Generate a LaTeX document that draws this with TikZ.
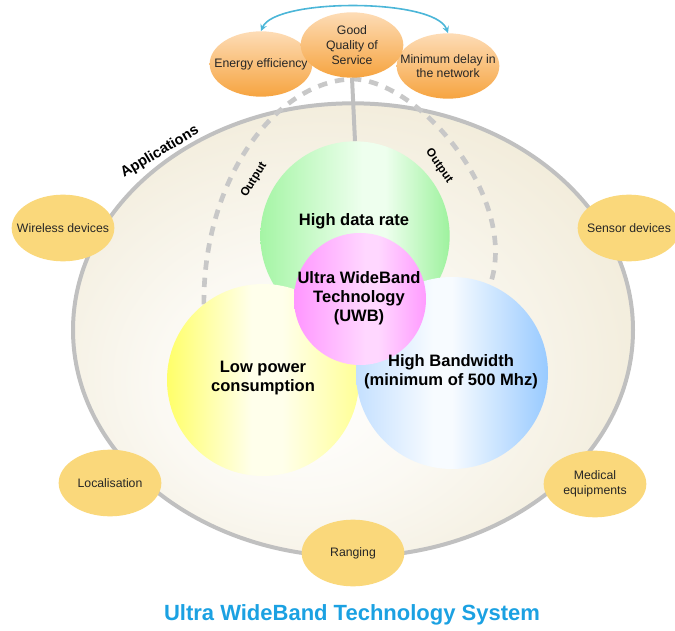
\documentclass[tikz,border=0pt]{standalone}
\usepackage{fontspec}
\setmainfont{Liberation Sans}
\usepackage{tikz}
\usetikzlibrary{positioning}
\usetikzlibrary{shapes.geometric, arrows}
\usetikzlibrary{calc, shapes, backgrounds}

\definecolor{appfill}{RGB}{250,216,123}
\definecolor{goaltop}{RGB}{253,220,182}
\definecolor{goalbot}{RGB}{246,164,64}
\definecolor{rim}{RGB}{192,192,192}
\definecolor{dashgray}{RGB}{200,200,200}
\definecolor{beige}{RGB}{239,232,211}
\definecolor{cream}{RGB}{251,249,243}
\definecolor{linkblue}{RGB}{75,182,216}
\definecolor{titleblue}{RGB}{27,161,226}
\definecolor{grn1}{RGB}{165,245,165}
\definecolor{grn2}{RGB}{238,255,238}
\definecolor{grn3}{RGB}{158,242,158}
\definecolor{ylw1}{RGB}{255,255,105}
\definecolor{ylw2}{RGB}{255,255,235}
\definecolor{ylw3}{RGB}{255,255,150}
\definecolor{blu1}{RGB}{196,224,255}
\definecolor{blu2}{RGB}{247,251,255}
\definecolor{blu3}{RGB}{152,202,255}
\definecolor{pnk1}{RGB}{255,150,255}
\definecolor{pnk2}{RGB}{255,215,255}
\definecolor{pnk3}{RGB}{255,155,255}

\pgfdeclareradialshading{appshade}{\pgfpoint{-6bp}{-8bp}}{color(0bp)=(white); color(13bp)=(cream); color(35bp)=(beige); color(50bp)=(beige)}
\pgfdeclarehorizontalshading{grnshade}{100bp}{color(0bp)=(grn1); color(25bp)=(grn1); color(52bp)=(grn2); color(58bp)=(grn2); color(75bp)=(grn3); color(100bp)=(grn3)}
\pgfdeclarehorizontalshading{ylwshade}{100bp}{color(0bp)=(ylw1); color(25bp)=(ylw1); color(47bp)=(ylw2); color(55bp)=(ylw2); color(75bp)=(ylw3); color(100bp)=(ylw3)}
\pgfdeclarehorizontalshading{blushade}{100bp}{color(0bp)=(blu1); color(25bp)=(blu1); color(45bp)=(blu2); color(50bp)=(blu2); color(75bp)=(blu3); color(100bp)=(blu3)}
\pgfdeclarehorizontalshading{pnkshade}{100bp}{color(0bp)=(pnk1); color(25bp)=(pnk1); color(52bp)=(pnk2); color(57bp)=(pnk2); color(75bp)=(pnk3); color(100bp)=(pnk3)}

\tikzstyle{arrow} = [line width=1.2pt,<->,>=stealth]
\tikzstyle{app} = [ellipse, fill=appfill, minimum width=77pt, minimum height=50pt, inner sep=-30pt, align=center, text=black!85, font=\fontsize{9.2}{11.2}\selectfont]
\tikzstyle{goal} = [ellipse, top color=goaltop, bottom color=goalbot, minimum width=77pt, minimum height=49pt, inner sep=-30pt, align=center, text=black!85, font=\fontsize{9.2}{11}\selectfont]
\tikzstyle{outpath} = [dashgray, line width=3.5pt, dash pattern=on 7pt off 6pt]

\begin{document}
\begin{tikzpicture}[
    x = 0.75pt, y = -0.75pt,
    disc/.style = {circle, inner sep=0pt, minimum size=#1},
    bold/.style = {align=center, font=\bfseries\fontsize{12.4}{14.3}\selectfont},
    tag/.style = {font=\bfseries\fontsize{8.8}{10}\selectfont}
  ]
  \useasboundingbox (0,0) rectangle (675,631);

  % Applications
  \node[ellipse, draw=rim, line width=3pt, shading=appshade,
        minimum width=420pt, minimum height=340pt] (Apps) at (353,330) {};
  \node[app] (Wireless) at (63,228) {Wireless devices};
  \node[app] (Sensor) at (629,228) {Sensor devices};
  \node[app] (Localisation) at (110,483) {Localisation};
  \node[app] (Medical) at (595,484) {Medical\\equipments};
  \node[app] (Ranging) at (353,553) {Ranging};

  % Output links
  \coordinate (Top) at (352,79);
  \draw[outpath] (263,380) ++(128:72pt) .. controls (203,180) and (275,82) .. (Top);
  \draw[outpath] (Top) .. controls (420,80) and (520,200) .. (490,285);

  % Circles
  \node[disc=142pt, shading=grnshade] (Rate) at (355,236) {};
  \node[disc=144pt, shading=ylwshade] (Power) at (263,380) {};
  \node[disc=144pt, shading=blushade] (Bandwidth) at (452,373) {};
  \node[disc=99pt, shading=pnkshade] (UWB) at (360,299) {};

  % Goals
  \node[goal] (Energy) at (261,64) {Energy efficiency};
  \node[goal] (Delay) at (448,66) {Minimum delay in\\the network};
  \node[goal] (QoS) at (352,45) {Good\\Quality of\\Service};
  \draw[rim, line width=3pt] (QoS.south) -- (Rate.north);
  \draw[arrow, linkblue] (Energy.north) .. controls (275,-2) and (435,-2) .. (Delay.north);

  % Labels
  \node[bold] (Rate_txt) at (354,221) {High data rate};
  \node[bold] (Power_txt) at (263,378) {Low power\\consumption};
  \node[bold] (Bandwidth_txt) at (451,372) {High Bandwidth\\(minimum of 500 Mhz)};
  \node[bold] (UWB_txt) at (359,298) {Ultra WideBand\\Technology\\(UWB)};
  \node[tag, rotate=58] (Out_left) at (254,180) {Output};
  \node[tag, rotate=-55] (Out_right) at (439,166) {Output};
  \node[font=\bfseries\fontsize{11}{13}\selectfont, rotate=31] (Apps_txt) at (160,152) {Applications};
  \node[font=\bfseries\fontsize{16.5}{19}\selectfont, text=titleblue] (Title) at (352,615) {Ultra WideBand Technology System};
\end{tikzpicture}
\end{document}
